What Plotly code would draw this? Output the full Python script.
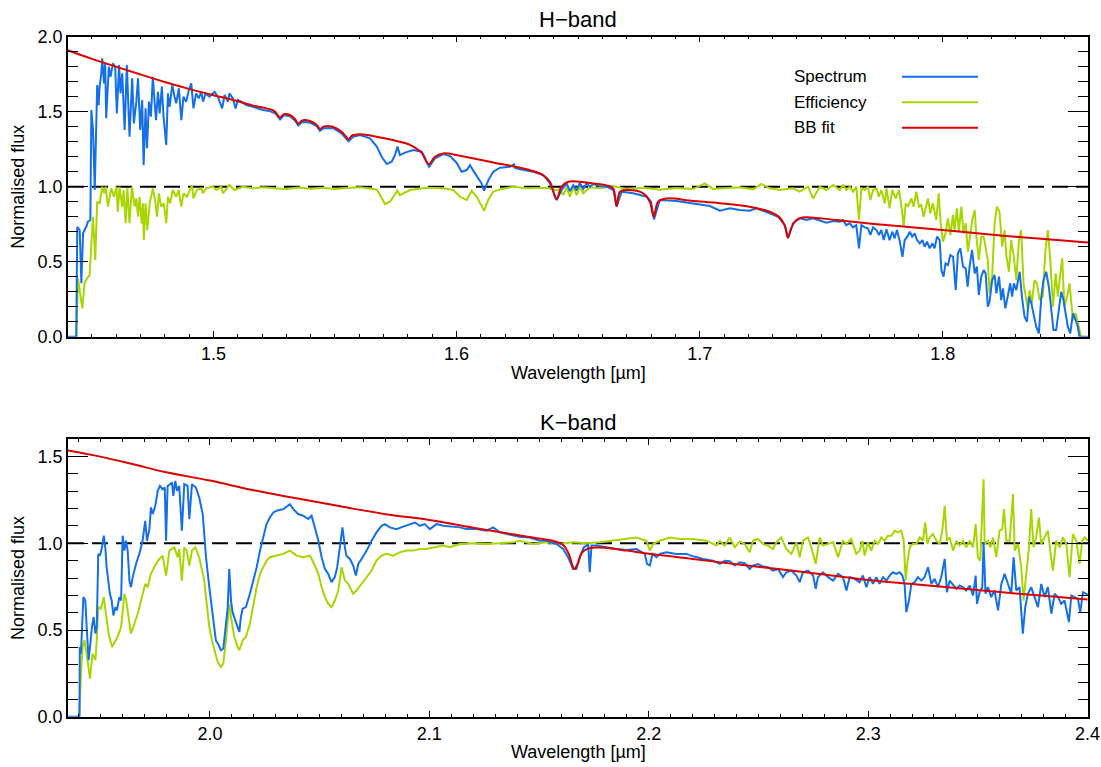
import plotly.graph_objects as go

FONT = "Liberation Sans, Arial, Helvetica, sans-serif"
BLUE = "#1470e8"
GREEN = "#a8d600"
RED = "#dc0000"

# ---------------- H band (wavelength in micron, normalised flux) ----------------
H_SPECTRUM = [
    (1.4400, 0.0), (1.4436, 0.0), (1.4440, 0.733), (1.4450, 0.711), (1.4457, 0.356),
    (1.4464, 0.689), (1.4470, 0.711), (1.4477, 0.733), (1.4484, 0.767), (1.4494, 0.778),
    (1.4498, 1.511), (1.4505, 1.378), (1.4512, 0.978), (1.4518, 1.530), (1.4522, 1.678),
    (1.4528, 1.544), (1.4532, 1.667), (1.4539, 1.756), (1.4543, 1.856), (1.4550, 1.689),
    (1.4555, 1.822), (1.4559, 1.456), (1.4566, 1.711), (1.4570, 1.800), (1.4577, 1.733),
    (1.4587, 1.822), (1.4596, 1.800), (1.4603, 1.489), (1.4612, 1.811), (1.4618, 1.622),
    (1.4625, 1.756), (1.4635, 1.378), (1.4644, 1.811), (1.4655, 1.333), (1.4666, 1.722),
    (1.4673, 1.422), (1.4683, 1.567), (1.4690, 1.722), (1.4699, 1.378), (1.4707, 1.578),
    (1.4713, 1.144), (1.4721, 1.522), (1.4727, 1.256), (1.4735, 1.567), (1.4743, 1.467),
    (1.4751, 1.733), (1.4759, 1.544), (1.4764, 1.444), (1.4772, 1.633), (1.4779, 1.489),
    (1.4788, 1.667), (1.4795, 1.467), (1.4806, 1.278), (1.4813, 1.622), (1.4820, 1.533),
    (1.4831, 1.678), (1.4840, 1.600), (1.4847, 1.556), (1.4858, 1.656), (1.4868, 1.444),
    (1.4877, 1.600), (1.4888, 1.567), (1.4899, 1.644), (1.4909, 1.689), (1.4918, 1.522),
    (1.4929, 1.622), (1.4940, 1.589), (1.4950, 1.633), (1.4957, 1.567), (1.4968, 1.622),
    (1.4984, 1.600), (1.5005, 1.633), (1.5018, 1.600), (1.5036, 1.522), (1.5046, 1.611),
    (1.5060, 1.567), (1.5066, 1.622), (1.5080, 1.589), (1.5091, 1.522), (1.5101, 1.578),
    (1.5114, 1.567), (1.5135, 1.544), (1.5162, 1.533), (1.5203, 1.511), (1.5230, 1.505),
    (1.5255, 1.488), (1.5274, 1.448), (1.5290, 1.476), (1.5315, 1.470), (1.5336, 1.440),
    (1.5349, 1.408), (1.5365, 1.432), (1.5397, 1.428), (1.5425, 1.404), (1.5438, 1.372),
    (1.5455, 1.392), (1.5493, 1.390), (1.5527, 1.356), (1.5556, 1.302), (1.5575, 1.332),
    (1.5603, 1.344), (1.5644, 1.322), (1.5672, 1.267), (1.5692, 1.200), (1.5713, 1.151),
    (1.5733, 1.167), (1.5747, 1.211), (1.5757, 1.267), (1.5767, 1.211), (1.5788, 1.227),
    (1.5822, 1.244), (1.5857, 1.233), (1.5887, 1.133), (1.5911, 1.189), (1.5946, 1.218),
    (1.5973, 1.204), (1.6000, 1.160), (1.6021, 1.100), (1.6042, 1.111), (1.6055, 1.144),
    (1.6076, 1.089), (1.6103, 1.022), (1.6113, 0.973), (1.6131, 1.044), (1.6151, 1.100),
    (1.6179, 1.127), (1.6220, 1.133), (1.6236, 1.149), (1.6240, 1.125), (1.6261, 1.116),
    (1.6316, 1.100), (1.6357, 1.078), (1.6384, 1.022), (1.6412, 0.911), (1.6432, 0.978),
    (1.6453, 1.022), (1.6466, 0.970), (1.6480, 1.010), (1.6494, 0.975), (1.6507, 1.025),
    (1.6521, 0.985), (1.6535, 1.022), (1.6549, 1.000), (1.6562, 1.018), (1.6590, 1.005),
    (1.6617, 1.000), (1.6645, 0.978), (1.6658, 0.867), (1.6679, 0.967), (1.6727, 0.956),
    (1.6782, 0.933), (1.6800, 0.900), (1.6812, 0.782), (1.6836, 0.911), (1.6905, 0.904),
    (1.6973, 0.889), (1.7042, 0.871), (1.7083, 0.840), (1.7124, 0.856), (1.7165, 0.844),
    (1.7206, 0.840), (1.7233, 0.856), (1.7254, 0.845), (1.7288, 0.822), (1.7322, 0.800),
    (1.7350, 0.744), (1.7363, 0.656), (1.7384, 0.756), (1.7411, 0.789), (1.7439, 0.778),
    (1.7466, 0.789), (1.7494, 0.773), (1.7521, 0.760), (1.7550, 0.771), (1.7576, 0.767),
    (1.7589, 0.778), (1.7603, 0.744), (1.7617, 0.756), (1.7631, 0.729), (1.7644, 0.744),
    (1.7655, 0.589), (1.7665, 0.744), (1.7679, 0.729), (1.7692, 0.722), (1.7702, 0.678),
    (1.7713, 0.729), (1.7727, 0.711), (1.7737, 0.678), (1.7747, 0.711), (1.7757, 0.644),
    (1.7768, 0.716), (1.7781, 0.644), (1.7792, 0.700), (1.7802, 0.656), (1.7811, 0.711),
    (1.7822, 0.644), (1.7834, 0.533), (1.7843, 0.644), (1.7854, 0.667), (1.7864, 0.700),
    (1.7874, 0.667), (1.7884, 0.689), (1.7894, 0.644), (1.7905, 0.622), (1.7916, 0.644),
    (1.7925, 0.600), (1.7935, 0.633), (1.7946, 0.589), (1.7957, 0.622), (1.7966, 0.589),
    (1.7976, 0.667), (1.7987, 0.644), (1.7994, 0.444), (1.8003, 0.400), (1.8011, 0.489),
    (1.8021, 0.478), (1.8031, 0.544), (1.8042, 0.533), (1.8053, 0.311), (1.8062, 0.556),
    (1.8072, 0.589), (1.8083, 0.467), (1.8094, 0.456), (1.8102, 0.333), (1.8110, 0.467),
    (1.8120, 0.578), (1.8131, 0.422), (1.8140, 0.467), (1.8148, 0.278), (1.8158, 0.400),
    (1.8168, 0.444), (1.8176, 0.422), (1.8185, 0.200), (1.8192, 0.233), (1.8203, 0.378),
    (1.8213, 0.411), (1.8220, 0.289), (1.8231, 0.400), (1.8240, 0.244), (1.8247, 0.322),
    (1.8257, 0.189), (1.8268, 0.278), (1.8277, 0.356), (1.8285, 0.267), (1.8292, 0.356),
    (1.8302, 0.311), (1.8316, 0.433), (1.8326, 0.256), (1.8336, 0.133), (1.8346, 0.100),
    (1.8354, 0.267), (1.8364, 0.222), (1.8373, 0.156), (1.8384, 0.067), (1.8395, 0.022),
    (1.8405, 0.267), (1.8414, 0.378), (1.8425, 0.433), (1.8436, 0.333), (1.8446, 0.178),
    (1.8455, 0.044), (1.8466, 0.044), (1.8477, 0.189), (1.8487, 0.300), (1.8496, 0.244),
    (1.8505, 0.144), (1.8514, 0.067), (1.8524, 0.022), (1.8535, 0.156), (1.8546, 0.111),
    (1.8555, 0.067), (1.8562, 0.0), (1.8600, 0.0),
]

H_EFFICIENCY = [
    (1.4436, 0.0), (1.4443, 0.389), (1.4461, 0.189), (1.4470, 0.356), (1.4480, 0.389),
    (1.4491, 0.411), (1.4498, 0.622), (1.4505, 0.800), (1.4514, 0.511), (1.4522, 0.900),
    (1.4532, 0.889), (1.4543, 1.000), (1.4550, 0.956), (1.4557, 1.000), (1.4566, 0.867),
    (1.4580, 0.989), (1.4591, 0.933), (1.4601, 1.000), (1.4607, 0.833), (1.4614, 1.000),
    (1.4625, 0.867), (1.4631, 0.978), (1.4639, 0.756), (1.4646, 0.989), (1.4655, 0.756),
    (1.4665, 1.000), (1.4676, 0.867), (1.4683, 0.922), (1.4690, 0.800), (1.4696, 0.933),
    (1.4705, 0.756), (1.4710, 0.889), (1.4714, 0.644), (1.4721, 0.889), (1.4728, 0.711),
    (1.4738, 0.889), (1.4751, 0.989), (1.4761, 0.900), (1.4768, 0.800), (1.4776, 0.956),
    (1.4785, 0.867), (1.4796, 0.889), (1.4806, 0.756), (1.4813, 0.933), (1.4822, 0.889),
    (1.4833, 0.978), (1.4847, 0.933), (1.4857, 0.978), (1.4868, 0.867), (1.4877, 0.956),
    (1.4891, 0.933), (1.4912, 1.011), (1.4918, 0.922), (1.4932, 0.978), (1.4950, 0.989),
    (1.4957, 0.956), (1.4970, 0.989), (1.4998, 1.000), (1.5012, 0.978), (1.5032, 1.000),
    (1.5039, 0.956), (1.5066, 1.011), (1.5087, 0.978), (1.5121, 1.000), (1.5162, 0.989),
    (1.5203, 0.996), (1.5250, 0.990), (1.5300, 0.984), (1.5350, 0.995), (1.5400, 0.987),
    (1.5450, 0.993), (1.5500, 0.984), (1.5550, 0.991), (1.5603, 0.996), (1.5672, 0.982),
    (1.5706, 0.884), (1.5726, 0.900), (1.5740, 0.933), (1.5757, 0.973), (1.5767, 0.944),
    (1.5808, 0.978), (1.5877, 0.993), (1.5946, 0.989), (1.5987, 0.978), (1.6014, 0.933),
    (1.6042, 0.911), (1.6062, 0.973), (1.6083, 0.933), (1.6103, 0.878), (1.6114, 0.840),
    (1.6130, 0.911), (1.6151, 0.967), (1.6179, 0.982), (1.6234, 1.000), (1.6288, 0.989),
    (1.6371, 0.993), (1.6405, 0.978), (1.6425, 0.982), (1.6439, 0.944), (1.6453, 1.000),
    (1.6466, 0.933), (1.6480, 0.996), (1.6494, 0.944), (1.6507, 1.000), (1.6521, 0.956),
    (1.6549, 0.996), (1.6590, 0.989), (1.6645, 1.004), (1.6699, 0.984), (1.6768, 0.993),
    (1.6836, 0.980), (1.6905, 0.991), (1.6973, 0.984), (1.7021, 1.022), (1.7055, 0.985),
    (1.7124, 0.990), (1.7165, 0.996), (1.7220, 0.982), (1.7254, 1.018), (1.7288, 0.989),
    (1.7329, 0.978), (1.7384, 0.989), (1.7411, 0.967), (1.7446, 1.000), (1.7466, 0.922),
    (1.7494, 1.000), (1.7521, 0.978), (1.7549, 1.011), (1.7576, 0.978), (1.7589, 1.011),
    (1.7603, 0.978), (1.7617, 1.000), (1.7631, 0.967), (1.7644, 1.000), (1.7655, 0.778),
    (1.7665, 0.989), (1.7679, 0.978), (1.7692, 1.000), (1.7702, 0.911), (1.7713, 0.978),
    (1.7727, 0.989), (1.7737, 0.933), (1.7747, 0.978), (1.7761, 0.889), (1.7768, 0.989),
    (1.7781, 0.856), (1.7792, 0.978), (1.7806, 0.922), (1.7820, 0.978), (1.7829, 0.878),
    (1.7839, 0.733), (1.7847, 0.889), (1.7857, 0.867), (1.7870, 0.922), (1.7880, 0.867),
    (1.7891, 0.967), (1.7902, 0.867), (1.7911, 0.878), (1.7921, 0.800), (1.7929, 0.856),
    (1.7939, 0.922), (1.7948, 0.822), (1.7959, 0.889), (1.7973, 0.778), (1.7983, 0.956),
    (1.7991, 0.756), (1.8001, 0.633), (1.8011, 0.689), (1.8021, 0.789), (1.8031, 0.678),
    (1.8042, 0.811), (1.8048, 0.711), (1.8058, 0.856), (1.8066, 0.700), (1.8076, 0.867),
    (1.8085, 0.689), (1.8094, 0.756), (1.8103, 0.567), (1.8113, 0.678), (1.8121, 0.778),
    (1.8131, 0.844), (1.8138, 0.667), (1.8148, 0.511), (1.8158, 0.667), (1.8168, 0.667),
    (1.8176, 0.578), (1.8185, 0.511), (1.8192, 0.289), (1.8203, 0.411), (1.8213, 0.756),
    (1.8222, 0.867), (1.8233, 0.833), (1.8244, 0.600), (1.8254, 0.711), (1.8261, 0.544),
    (1.8272, 0.433), (1.8281, 0.644), (1.8291, 0.544), (1.8302, 0.378), (1.8313, 0.644),
    (1.8322, 0.711), (1.8332, 0.356), (1.8340, 0.267), (1.8350, 0.178), (1.8357, 0.311),
    (1.8366, 0.222), (1.8377, 0.378), (1.8387, 0.356), (1.8398, 0.244), (1.8411, 0.267),
    (1.8422, 0.578), (1.8432, 0.711), (1.8442, 0.511), (1.8453, 0.200), (1.8464, 0.422),
    (1.8473, 0.267), (1.8480, 0.378), (1.8491, 0.522), (1.8500, 0.200), (1.8514, 0.289),
    (1.8521, 0.356), (1.8535, 0.111), (1.8546, 0.156), (1.8555, 0.089), (1.8562, 0.044),
    (1.8569, 0.0),
]

H_BB_FIT = [
    (1.4400, 1.910), (1.4500, 1.852), (1.4600, 1.800), (1.4700, 1.748), (1.4800, 1.698),
    (1.4900, 1.652), (1.5000, 1.610), (1.5082, 1.578), (1.5160, 1.542), (1.5219, 1.522),
    (1.5250, 1.505), (1.5274, 1.462), (1.5290, 1.484), (1.5315, 1.478), (1.5336, 1.450),
    (1.5349, 1.420), (1.5365, 1.442), (1.5397, 1.438), (1.5425, 1.412), (1.5438, 1.385),
    (1.5455, 1.402), (1.5493, 1.398), (1.5527, 1.366), (1.5545, 1.335), (1.5556, 1.316),
    (1.5570, 1.340), (1.5603, 1.349), (1.5680, 1.330), (1.5740, 1.311), (1.5800, 1.285),
    (1.5822, 1.267), (1.5856, 1.227), (1.5886, 1.149), (1.5911, 1.200), (1.5945, 1.222),
    (1.6014, 1.207), (1.6151, 1.162), (1.6288, 1.116), (1.6349, 1.084), (1.6384, 1.033),
    (1.6411, 0.916), (1.6432, 1.000), (1.6459, 1.033), (1.6507, 1.033), (1.6562, 1.022),
    (1.6617, 1.009), (1.6644, 0.989), (1.6658, 0.871), (1.6672, 0.967), (1.6699, 0.978),
    (1.6768, 0.956), (1.6795, 0.900), (1.6811, 0.800), (1.6829, 0.900), (1.6863, 0.922),
    (1.6973, 0.905), (1.7083, 0.890), (1.7220, 0.862), (1.7288, 0.833), (1.7329, 0.795),
    (1.7350, 0.740), (1.7363, 0.662), (1.7376, 0.720), (1.7391, 0.767), (1.7411, 0.790),
    (1.7439, 0.796), (1.7562, 0.778), (1.7767, 0.744), (1.7998, 0.711), (1.8247, 0.673),
    (1.8600, 0.627),
]

# ---------------- K band ----------------
K_SPECTRUM = [
    (1.9340, 0.0), (1.9405, 0.0), (1.9407, 0.402), (1.9412, 0.364), (1.9423, 0.690),
    (1.9432, 0.670), (1.9438, 0.517), (1.9447, 0.326), (1.9455, 0.421), (1.9462, 0.517),
    (1.9470, 0.575), (1.9478, 0.479), (1.9484, 0.517), (1.9491, 0.939), (1.9499, 0.929),
    (1.9508, 0.977), (1.9516, 1.044), (1.9523, 0.977), (1.9529, 0.862), (1.9537, 0.766),
    (1.9544, 0.709), (1.9552, 0.670), (1.9560, 0.584), (1.9569, 0.632), (1.9576, 0.613),
    (1.9587, 0.690), (1.9595, 0.670), (1.9602, 1.044), (1.9610, 0.958), (1.9617, 1.015),
    (1.9625, 0.958), (1.9633, 0.785), (1.9640, 0.747), (1.9648, 0.805), (1.9663, 0.881),
    (1.9678, 0.939), (1.9693, 1.015), (1.9705, 1.130), (1.9713, 1.015), (1.9724, 1.082),
    (1.9731, 1.207), (1.9739, 1.169), (1.9751, 1.216), (1.9762, 1.303), (1.9772, 1.331),
    (1.9784, 1.312), (1.9794, 1.322), (1.9800, 1.015), (1.9807, 1.331), (1.9818, 1.341),
    (1.9827, 1.351), (1.9833, 1.274), (1.9842, 1.360), (1.9850, 1.303), (1.9860, 1.331),
    (1.9872, 1.073), (1.9883, 1.341), (1.9898, 1.331), (1.9906, 1.140), (1.9918, 1.341),
    (1.9936, 1.322), (1.9951, 1.264), (1.9959, 1.207), (1.9967, 1.169), (1.9974, 1.054),
    (1.9982, 0.920), (1.9997, 0.747), (2.0012, 0.594), (2.0020, 0.498), (2.0027, 0.440),
    (2.0040, 0.412), (2.0050, 0.383), (2.0061, 0.393), (2.0070, 0.517), (2.0081, 0.632),
    (2.0088, 0.852), (2.0096, 0.670), (2.0103, 0.603), (2.0114, 0.556), (2.0126, 0.517),
    (2.0134, 0.489), (2.0141, 0.575), (2.0149, 0.623), (2.0164, 0.632), (2.0182, 0.709),
    (2.0197, 0.785), (2.0213, 0.862), (2.0228, 0.958), (2.0243, 1.034), (2.0258, 1.111),
    (2.0273, 1.149), (2.0289, 1.178), (2.0304, 1.188), (2.0334, 1.197), (2.0364, 1.226),
    (2.0380, 1.197), (2.0402, 1.169), (2.0425, 1.159), (2.0448, 1.140), (2.0463, 1.159),
    (2.0478, 1.092), (2.0494, 1.015), (2.0509, 0.920), (2.0524, 0.852), (2.0539, 0.824),
    (2.0554, 0.776), (2.0569, 0.805), (2.0580, 0.862), (2.0592, 0.977), (2.0604, 1.092),
    (2.0615, 0.977), (2.0622, 0.929), (2.0638, 0.910), (2.0653, 0.872), (2.0665, 0.814),
    (2.0676, 0.881), (2.0691, 0.910), (2.0714, 0.958), (2.0737, 1.015), (2.0759, 1.063),
    (2.0782, 1.101), (2.0797, 1.111), (2.0820, 1.092), (2.0850, 1.082), (2.0881, 1.096),
    (2.0911, 1.111), (2.0934, 1.120), (2.0957, 1.101), (2.0979, 1.111), (2.1002, 1.082),
    (2.1033, 1.111), (2.1063, 1.101), (2.1093, 1.096), (2.1139, 1.092), (2.1169, 1.082),
    (2.1215, 1.082), (2.1260, 1.073), (2.1291, 1.092), (2.1321, 1.063), (2.1367, 1.050),
    (2.1412, 1.038), (2.1458, 1.034), (2.1503, 1.015), (2.1534, 1.015), (2.1557, 1.006),
    (2.1579, 0.996), (2.1610, 0.967), (2.1632, 0.920), (2.1655, 0.852), (2.1670, 0.852),
    (2.1686, 0.920), (2.1704, 0.977), (2.1724, 0.992), (2.1731, 0.833), (2.1739, 0.987),
    (2.1762, 0.987), (2.1807, 0.977), (2.1853, 0.967), (2.1898, 0.962), (2.1944, 0.967),
    (2.1982, 0.939), (2.1992, 0.881), (2.2005, 0.872), (2.2017, 0.939), (2.2035, 0.920),
    (2.2050, 0.939), (2.2081, 0.948), (2.2126, 0.939), (2.2172, 0.939), (2.2202, 0.925),
    (2.2248, 0.910), (2.2293, 0.900), (2.2324, 0.881), (2.2346, 0.900), (2.2369, 0.897),
    (2.2392, 0.872), (2.2415, 0.891), (2.2437, 0.885), (2.2460, 0.852), (2.2475, 0.872),
    (2.2498, 0.881), (2.2521, 0.866), (2.2544, 0.862), (2.2566, 0.843), (2.2589, 0.852),
    (2.2612, 0.805), (2.2627, 0.833), (2.2650, 0.843), (2.2673, 0.814), (2.2688, 0.776),
    (2.2703, 0.833), (2.2726, 0.843), (2.2749, 0.814), (2.2761, 0.738), (2.2771, 0.805),
    (2.2794, 0.833), (2.2817, 0.805), (2.2840, 0.785), (2.2863, 0.824), (2.2885, 0.805),
    (2.2901, 0.728), (2.2916, 0.805), (2.2939, 0.795), (2.2961, 0.776), (2.2976, 0.814),
    (2.2992, 0.747), (2.3007, 0.805), (2.3022, 0.766), (2.3037, 0.805), (2.3052, 0.766),
    (2.3068, 0.805), (2.3083, 0.785), (2.3098, 0.814), (2.3113, 0.833), (2.3128, 0.824),
    (2.3144, 0.833), (2.3156, 0.814), (2.3166, 0.766), (2.3174, 0.603), (2.3186, 0.670),
    (2.3197, 0.766), (2.3212, 0.776), (2.3227, 0.805), (2.3242, 0.785), (2.3257, 0.805),
    (2.3273, 0.862), (2.3288, 0.766), (2.3303, 0.795), (2.3318, 0.747), (2.3333, 0.805),
    (2.3349, 0.910), (2.3359, 0.718), (2.3371, 0.785), (2.3387, 0.757), (2.3402, 0.738),
    (2.3417, 0.757), (2.3432, 0.747), (2.3447, 0.728), (2.3463, 0.757), (2.3478, 0.699),
    (2.3490, 0.814), (2.3496, 0.651), (2.3508, 0.718), (2.3520, 0.747), (2.3526, 1.006),
    (2.3535, 0.709), (2.3546, 0.747), (2.3561, 0.690), (2.3576, 0.728), (2.3592, 0.613),
    (2.3607, 0.766), (2.3622, 0.824), (2.3637, 0.766), (2.3652, 0.709), (2.3663, 0.920),
    (2.3675, 0.728), (2.3690, 0.747), (2.3705, 0.479), (2.3716, 0.632), (2.3728, 0.709),
    (2.3743, 0.747), (2.3759, 0.690), (2.3774, 0.632), (2.3789, 0.766), (2.3804, 0.690),
    (2.3819, 0.747), (2.3835, 0.594), (2.3850, 0.709), (2.3865, 0.690), (2.3880, 0.651),
    (2.3895, 0.670), (2.3915, 0.546), (2.3926, 0.699), (2.3941, 0.690), (2.3956, 0.680),
    (2.3967, 0.603), (2.3979, 0.718), (2.3994, 0.709), (2.4004, 0.699),
]

K_EFFICIENCY = [
    (1.9405, 0.0), (1.9412, 0.249), (1.9420, 0.402), (1.9428, 0.441), (1.9438, 0.364),
    (1.9447, 0.268), (1.9453, 0.220), (1.9465, 0.364), (1.9478, 0.326), (1.9484, 0.441),
    (1.9491, 0.632), (1.9503, 0.623), (1.9516, 0.690), (1.9526, 0.594), (1.9538, 0.479),
    (1.9554, 0.402), (1.9569, 0.441), (1.9579, 0.460), (1.9595, 0.517), (1.9610, 0.709),
    (1.9617, 0.680), (1.9633, 0.517), (1.9640, 0.479), (1.9655, 0.536), (1.9671, 0.594),
    (1.9686, 0.670), (1.9705, 0.766), (1.9716, 0.747), (1.9731, 0.824), (1.9746, 0.862),
    (1.9769, 0.910), (1.9784, 0.929), (1.9800, 0.814), (1.9815, 0.958), (1.9838, 0.977),
    (1.9853, 0.920), (1.9860, 0.967), (1.9872, 0.785), (1.9883, 0.977), (1.9894, 0.958),
    (1.9906, 0.872), (1.9918, 0.958), (1.9933, 0.977), (1.9951, 0.920), (1.9962, 0.862),
    (1.9974, 0.785), (1.9982, 0.690), (1.9997, 0.517), (2.0009, 0.441), (2.0020, 0.383),
    (2.0035, 0.316), (2.0050, 0.287), (2.0061, 0.307), (2.0073, 0.441), (2.0081, 0.575),
    (2.0088, 0.651), (2.0096, 0.575), (2.0111, 0.460), (2.0126, 0.402), (2.0134, 0.383),
    (2.0149, 0.441), (2.0164, 0.460), (2.0182, 0.536), (2.0197, 0.651), (2.0213, 0.747),
    (2.0228, 0.824), (2.0243, 0.862), (2.0258, 0.900), (2.0273, 0.920), (2.0304, 0.929),
    (2.0334, 0.939), (2.0364, 0.958), (2.0395, 0.929), (2.0425, 0.920), (2.0456, 0.929),
    (2.0478, 0.872), (2.0494, 0.824), (2.0509, 0.747), (2.0524, 0.690), (2.0539, 0.651),
    (2.0554, 0.632), (2.0569, 0.670), (2.0585, 0.728), (2.0600, 0.862), (2.0615, 0.785),
    (2.0630, 0.766), (2.0653, 0.709), (2.0668, 0.728), (2.0691, 0.766), (2.0714, 0.805),
    (2.0737, 0.843), (2.0759, 0.900), (2.0782, 0.929), (2.0805, 0.939), (2.0835, 0.929),
    (2.0865, 0.948), (2.0896, 0.958), (2.0926, 0.958), (2.0957, 0.967), (2.0987, 0.967),
    (2.1033, 0.977), (2.1063, 0.987), (2.1093, 0.977), (2.1139, 0.996), (2.1200, 1.000),
    (2.1260, 0.996), (2.1321, 1.000), (2.1382, 1.006), (2.1412, 1.015), (2.1443, 1.006),
    (2.1473, 0.996), (2.1534, 1.006), (2.1595, 0.996), (2.1655, 1.006), (2.1716, 1.000),
    (2.1777, 1.006), (2.1838, 1.015), (2.1898, 1.025), (2.1944, 1.034), (2.1990, 1.015),
    (2.2005, 0.958), (2.2020, 0.996), (2.2050, 1.015), (2.2096, 1.034), (2.2142, 1.025),
    (2.2202, 1.025), (2.2263, 1.015), (2.2309, 0.987), (2.2324, 1.015), (2.2346, 0.987),
    (2.2369, 1.034), (2.2392, 0.977), (2.2415, 1.011), (2.2437, 0.996), (2.2460, 0.948),
    (2.2475, 1.015), (2.2498, 1.025), (2.2521, 0.996), (2.2544, 0.987), (2.2566, 0.967),
    (2.2582, 1.006), (2.2604, 1.034), (2.2627, 0.967), (2.2650, 0.939), (2.2673, 1.006),
    (2.2688, 0.920), (2.2703, 1.015), (2.2726, 1.034), (2.2741, 0.977), (2.2761, 0.881),
    (2.2779, 1.034), (2.2794, 0.987), (2.2817, 0.996), (2.2840, 1.006), (2.2863, 0.920),
    (2.2885, 1.015), (2.2901, 0.996), (2.2923, 1.025), (2.2946, 0.939), (2.2961, 0.958),
    (2.2974, 1.015), (2.2984, 0.929), (2.2999, 1.006), (2.3014, 0.958), (2.3030, 1.015),
    (2.3045, 0.996), (2.3060, 1.034), (2.3075, 1.015), (2.3090, 1.044), (2.3106, 1.044),
    (2.3121, 1.073), (2.3136, 1.063), (2.3151, 1.073), (2.3162, 1.015), (2.3171, 0.785),
    (2.3178, 0.881), (2.3189, 0.977), (2.3204, 0.996), (2.3220, 0.996), (2.3235, 1.034),
    (2.3250, 1.015), (2.3260, 1.121), (2.3270, 0.996), (2.3280, 1.034), (2.3295, 1.054),
    (2.3311, 1.015), (2.3326, 0.996), (2.3338, 1.073), (2.3349, 1.216), (2.3359, 1.015),
    (2.3371, 1.034), (2.3387, 0.958), (2.3402, 1.015), (2.3417, 0.987), (2.3432, 1.015),
    (2.3447, 0.977), (2.3463, 1.015), (2.3478, 0.977), (2.3490, 1.111), (2.3500, 0.920),
    (2.3511, 0.900), (2.3526, 1.370), (2.3531, 0.996), (2.3546, 1.015), (2.3557, 0.977),
    (2.3569, 1.034), (2.3584, 0.920), (2.3599, 1.073), (2.3611, 1.082), (2.3619, 1.197),
    (2.3630, 1.015), (2.3645, 1.015), (2.3660, 1.284), (2.3668, 0.958), (2.3683, 0.996),
    (2.3698, 0.862), (2.3708, 0.670), (2.3721, 0.824), (2.3733, 0.977), (2.3743, 1.197),
    (2.3754, 0.977), (2.3766, 1.034), (2.3778, 1.149), (2.3789, 0.996), (2.3804, 1.034),
    (2.3819, 1.073), (2.3830, 0.958), (2.3842, 0.843), (2.3857, 1.015), (2.3873, 0.977),
    (2.3888, 1.034), (2.3903, 0.996), (2.3918, 0.805), (2.3933, 1.054), (2.3948, 1.015),
    (2.3964, 0.881), (2.3976, 1.015), (2.3987, 1.034), (2.4001, 1.015),
]

K_BB_FIT = [
    (1.9350, 1.536), (1.9500, 1.500), (1.9650, 1.456), (1.9800, 1.410), (2.0000, 1.362),
    (2.0200, 1.306), (2.0400, 1.258), (2.0600, 1.212), (2.0800, 1.168), (2.1000, 1.135),
    (2.1200, 1.090), (2.1400, 1.048), (2.1500, 1.028), (2.1570, 1.012), (2.1610, 0.990),
    (2.1635, 0.940), (2.1655, 0.862), (2.1662, 0.852), (2.1675, 0.880), (2.1695, 0.945),
    (2.1720, 0.968), (2.1760, 0.976), (2.1800, 0.974), (2.1900, 0.958), (2.2000, 0.940),
    (2.2200, 0.910), (2.2400, 0.879), (2.2600, 0.850), (2.2800, 0.820), (2.3000, 0.788),
    (2.3200, 0.765), (2.3400, 0.742), (2.3600, 0.719), (2.3800, 0.697), (2.4000, 0.676),
]

H_RANGE = [1.4402, 1.8597]
K_RANGE = [1.9353, 2.4002]
H_XTICKS = [1.5, 1.6, 1.7, 1.8]
K_XTICKS = [2.0, 2.1, 2.2, 2.3, 2.4]
H_YTICKS = [0.0, 0.5, 1.0, 1.5, 2.0]
K_YTICKS = [0.0, 0.5, 1.0, 1.5]
LEGEND_NAMES = ["Spectrum", "Efficiency", "BB fit"]

fig = go.Figure()


def add_line(points, color, xa, ya, shape="linear"):
    xs = [p[0] for p in points]
    ys = [p[1] for p in points]
    fig.add_trace(go.Scatter(
        x=xs, y=ys, mode="lines", xaxis=xa, yaxis=ya,
        line=dict(color=color, width=2, shape=shape),
        showlegend=False, hoverinfo="skip",
    ))


add_line(H_EFFICIENCY, GREEN, "x", "y")
add_line(H_SPECTRUM, BLUE, "x", "y")
add_line(H_BB_FIT, RED, "x", "y", "spline")
add_line(K_EFFICIENCY, GREEN, "x2", "y2")
add_line(K_SPECTRUM, BLUE, "x2", "y2")
add_line(K_BB_FIT, RED, "x2", "y2", "spline")

W, H = 1101, 767
LEFT, RIGHT = 68 / W, 1088 / W
TOP_DOM = [1 - 336.7 / H, 1 - 36.7 / H]
BOT_DOM = [1 - 716.7 / H, 1 - 439.3 / H]

tick_font = dict(family=FONT, size=18, color="black")
base = dict(showline=True, linecolor="black", linewidth=1.5, mirror="ticks",
            ticks="inside", tickcolor="black", tickwidth=1.2, showgrid=False,
            zeroline=False, tickfont=tick_font, automargin=False)


def xaxis(rng, ticks, anchor):
    return dict(base, domain=[LEFT, RIGHT], range=rng, anchor=anchor,
                tickvals=ticks, ticktext=["%.1f" % t for t in ticks], ticklen=6,
                minor=dict(dtick=0.01, tick0=2.0, ticklen=3, ticks="inside",
                           tickcolor="black", tickwidth=1.2))


def yaxis(rng, ticks, dom, anchor):
    return dict(base, domain=dom, range=rng, anchor=anchor,
                tickvals=ticks, ticktext=["%.1f" % t for t in ticks], ticklen=20,
                minor=dict(dtick=0.1, tick0=0, ticklen=10, ticks="inside",
                           tickcolor="black", tickwidth=1.2))


fig.update_layout(
    width=W, height=H, autosize=False,
    margin=dict(l=0, r=0, t=0, b=0, pad=0, autoexpand=False),
    paper_bgcolor="white", plot_bgcolor="white",
    showlegend=False,
    font=dict(family=FONT, color="black"),
    xaxis=xaxis(H_RANGE, H_XTICKS, "y"),
    yaxis=yaxis([0, 2.0], H_YTICKS, TOP_DOM, "x"),
    xaxis2=xaxis(K_RANGE, K_XTICKS, "y2"),
    yaxis2=yaxis([0, 1.6], K_YTICKS, BOT_DOM, "x2"),
)

# Unit reference line at flux = 1
for yref, xref in (("y", "x"), ("y2", "x2")):
    fig.add_shape(type="line", xref=xref + " domain", x0=0, x1=1, yref=yref, y0=1.0, y1=1.0,
                  line=dict(color="black", width=2, dash="16px,8px"), layer="below")

mid_x = (LEFT + RIGHT) / 2
ann = []
for text, y in (("H\u2212band", 1 - 20 / H), ("K\u2212band", 1 - 422 / H)):
    ann.append(dict(text=text, x=mid_x, y=y, xref="paper", yref="paper", showarrow=False,
                    font=dict(family=FONT, size=22, color="black"),
                    xanchor="center", yanchor="middle"))
for y in (1 - 373 / H, 1 - 752 / H):
    ann.append(dict(text="Wavelength [\u00b5m]", x=mid_x, y=y, xref="paper", yref="paper",
                    showarrow=False, font=dict(family=FONT, size=18, color="black"),
                    xanchor="center", yanchor="middle"))
for dom in (TOP_DOM, BOT_DOM):
    ann.append(dict(text="Normalised flux", x=18 / W, y=(dom[0] + dom[1]) / 2,
                    xref="paper", yref="paper", showarrow=False, textangle=-90,
                    font=dict(family=FONT, size=18, color="black"),
                    xanchor="center", yanchor="middle"))

# Legend: label on the left, line sample on the right
for name, color, ypx in zip(LEGEND_NAMES, (BLUE, GREEN, RED), (76.7, 102.3, 127.7)):
    yy = 1 - ypx / H
    ann.append(dict(text=name, x=792 / W, y=yy, xref="paper", yref="paper", showarrow=False,
                    font=dict(family=FONT, size=17, color="black"),
                    xanchor="left", yanchor="middle"))
    fig.add_shape(type="line", xref="paper", yref="paper", x0=902 / W, x1=978 / W,
                  y0=yy, y1=yy, line=dict(color=color, width=2))

fig.update_layout(annotations=ann)

# Page without body margin or scrollbars so the figure fills the window exactly
PAGE_STYLE = ("document.documentElement.style.margin='0';"
              "document.documentElement.style.overflow='hidden';"
              "document.body.style.margin='0';"
              "document.body.style.padding='0';"
              "document.body.style.overflow='hidden';")
fig.write_html("out.html", post_script=PAGE_STYLE)
